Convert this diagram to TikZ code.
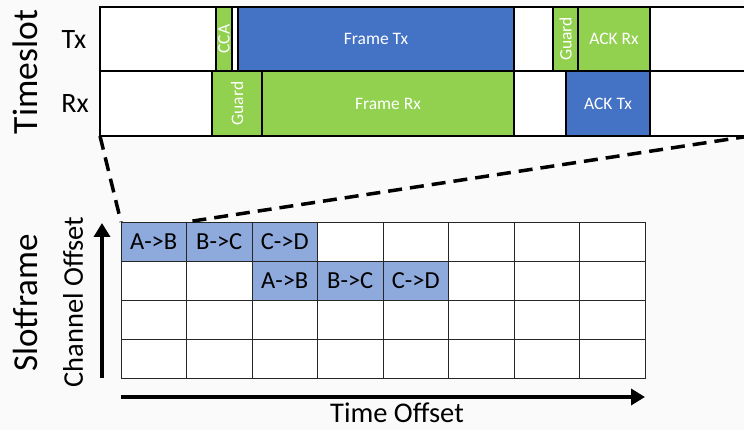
\documentclass[tikz,border=0pt]{standalone}
\usepackage{fontspec}
\setmainfont{Carlito}
\usetikzlibrary{positioning,arrows.meta}

\definecolor{txblue}{HTML}{4472C4}
\definecolor{rxgreen}{HTML}{92D050}
\definecolor{cellblue}{HTML}{8EA9DB}
\definecolor{paper}{HTML}{FAFAFA}
\newcommand{\fsz}[1]{\fontsize{#1}{#1}\selectfont}

\tikzset{
  seg/.style={draw=black, line width=1.2pt, inner sep=0pt, outer sep=0pt,
    text=white, font=\fsz{17.5}},
  txrow/.style={seg, minimum height=64pt},
  rxrow/.style={seg, minimum height=65pt},
  idle/.style={fill=white},
  send/.style={fill=txblue},
  recv/.style={fill=rxgreen},
  vlabel/.style={label={[rotate=90, text=white, font=\fsz{17.5}]center:#1}},
  cell/.style={draw=black!85, line width=0.8pt, fill=white, minimum width=65.5pt,
    minimum height=39pt, inner sep=0pt, outer sep=0pt, font=\fsz{24.5}},
  used/.style={fill=cellblue},
  zoomline/.style={dashed, dash pattern=on 14pt off 8pt, line width=3.5pt},
  axis/.style={line width=4.5pt, -{Triangle[length=14pt, width=16pt]}}
}

\begin{document}
\begin{tikzpicture}[x=1pt, y=-1pt]
  \useasboundingbox (0,0) rectangle (744,430);
  \fill[paper] (0,0) rectangle (744,430);
  \clip (0,0) rectangle (744,430);

  % timeslot, Tx row
  \node[txrow, idle, minimum width=116pt, anchor=west] (tx0) at (100,39) {};
  \node[txrow, recv, minimum width=16pt, right=0pt of tx0, vlabel=CCA] (cca) {};
  \node[txrow, idle, minimum width=6pt, right=0pt of cca] (tx1) {};
  \node[txrow, send, minimum width=276pt, right=0pt of tx1] (ftx) {Frame Tx};
  \node[txrow, idle, minimum width=39pt, right=0pt of ftx] (tx2) {};
  \node[txrow, recv, minimum width=25pt, right=0pt of tx2, vlabel=Guard] (gtx) {};
  \node[txrow, recv, minimum width=72pt, right=0pt of gtx] (arx) {ACK Rx};
  \node[txrow, idle, minimum width=100pt, right=0pt of arx] (tx3) {};

  % timeslot, Rx row
  \node[rxrow, idle, minimum width=112pt, anchor=west] (rx0) at (100,103.5) {};
  \node[rxrow, recv, minimum width=50pt, right=0pt of rx0, vlabel=Guard] (grx) {};
  \node[rxrow, recv, minimum width=252pt, right=0pt of grx] (frx) {Frame Rx};
  \node[rxrow, idle, minimum width=52pt, right=0pt of frx] (rx1) {};
  \node[rxrow, send, minimum width=84pt, right=0pt of rx1] (atx) {ACK Tx};
  \node[rxrow, idle, minimum width=100pt, right=0pt of atx] (rx2) {};

  \node[font=\fsz{35.5}, rotate=90] (timeslot) at (25,72) {Timeslot};
  \node[font=\fsz{28}] (txlab) at (74,40) {Tx};
  \node[font=\fsz{28}] (rxlab) at (75,104) {Rx};

  % slotframe grid
  \foreach \r in {1,...,4}
    \foreach \c in {1,...,8}
      \node[cell, anchor=north west] (c-\r-\c) at ({121+65.5*(\c-1)},{222+39*(\r-1)}) {};
  \foreach \c/\t in {1/A->B, 2/B->C, 3/C->D}
    \node[cell, used] at (c-1-\c) {\t};
  \foreach \c/\t in {3/A->B, 4/B->C, 5/C->D}
    \node[cell, used] at (c-2-\c) {\t};

  % zoom lines
  \draw[zoomline] (rx0.south west) -- (c-1-1.north west);
  \draw[zoomline] (rx2.south east) -- (c-1-2.north west);

  % axes
  \coordinate (ybot) at (102,378);
  \coordinate (ytop) at (102,223);
  \coordinate (xleft) at (121,397);
  \coordinate (xright) at (645,397);
  \draw[axis] (ybot) -- (ytop);
  \draw[axis] (xleft) -- (xright);

  \node[font=\fsz{35}, rotate=90] (slotframe) at (25,303) {Slotframe};
  \node[font=\fsz{28.5}, rotate=90] (choff) at (73,302) {Channel Offset};
  \node[font=\fsz{28.5}] (toff) at (397,413) {Time Offset};
\end{tikzpicture}
\end{document}
